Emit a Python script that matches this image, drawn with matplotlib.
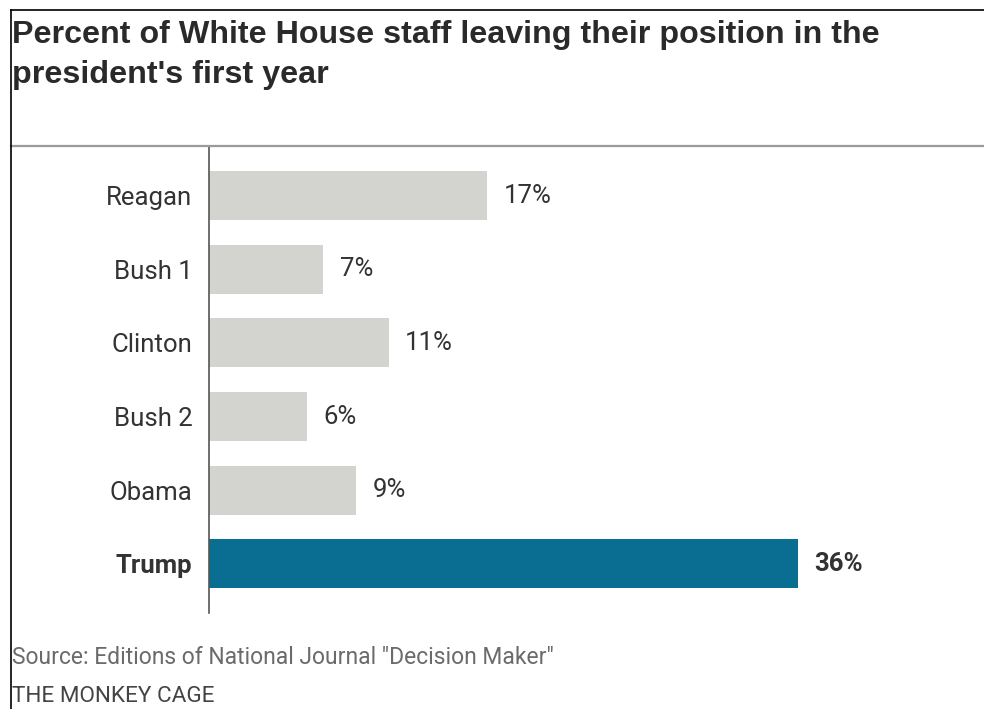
import matplotlib
matplotlib.use("Agg")
import matplotlib.pyplot as plt
from matplotlib.lines import Line2D

presidents = ["Reagan", "Bush 1", "Clinton", "Bush 2", "Obama", "Trump"]
percent_leaving = [17, 7, 11, 6, 9, 36]
highlight = "Trump"

grey_bar = "#d3d3d0"
blue_bar = "#0a6e92"
ink = "#333333"

plt.rcParams["font.family"] = ["Liberation Sans", "DejaVu Sans"]

fig = plt.figure(figsize=(9.84, 7.09), dpi=100)
ax = fig.add_axes([209 / 984, 1 - 613 / 709, 736 / 984, 467 / 709])

kolory = [blue_bar if p == highlight else grey_bar for p in presidents]
pozycje = range(len(presidents))
ax.barh(pozycje, percent_leaving, height=0.665, color=kolory)

for i, (p, v) in enumerate(zip(presidents, percent_leaving)):
    ax.text(v + 1.0, i, f"{v}%", va="center", ha="left", fontsize=18.5, color=ink,
            family=["Roboto", "DejaVu Sans"],
            fontweight="bold" if p == highlight else "normal")

ax.set_yticks(list(pozycje))
ax.set_yticklabels(presidents, fontsize=18.5, color=ink, family=["Roboto", "DejaVu Sans"])
for lab in ax.get_yticklabels():
    if lab.get_text() == highlight:
        lab.set_fontweight("bold")
ax.tick_params(axis="y", length=0, pad=12)
ax.set_xticks([])
ax.set_xlim(0, 45)
ax.set_ylim(5.665, -0.672)
for s in ["top", "right", "bottom"]:
    ax.spines[s].set_visible(False)
ax.spines["left"].set_color("#555555")
ax.spines["left"].set_linewidth(1.2)

# linie: szara pod tytulem, ramka z lewej i u gory
fig.add_artist(Line2D([11 / 984, 1], [1 - 146 / 709] * 2, color="#9a9a9a", lw=1.6))
fig.add_artist(Line2D([11 / 984, 1], [1 - 10 / 709] * 2, color="black", lw=1.2))
fig.add_artist(Line2D([11 / 984, 11 / 984], [0, 1 - 10 / 709], color="black", lw=1.2))

fig.text(12 / 984, 1 - 20 / 709,
         "Percent of White House staff leaving their position in the\npresident's first year",
         ha="left", va="top", fontsize=23.2, fontweight="bold", color="#2a2a2a", linespacing=1.45)
fig.text(12 / 984, 1 - 658 / 709, 'Source: Editions of National Journal "Decision Maker"',
         ha="left", va="center", fontsize=16.5, color="#6b6b6b", family=["Roboto", "DejaVu Sans"])
fig.text(12 / 984, 1 - 697 / 709, "THE MONKEY CAGE",
         ha="left", va="center", fontsize=16.2, color="#444444", family=["Roboto", "DejaVu Sans"])

fig.savefig("out.png", dpi=100)
